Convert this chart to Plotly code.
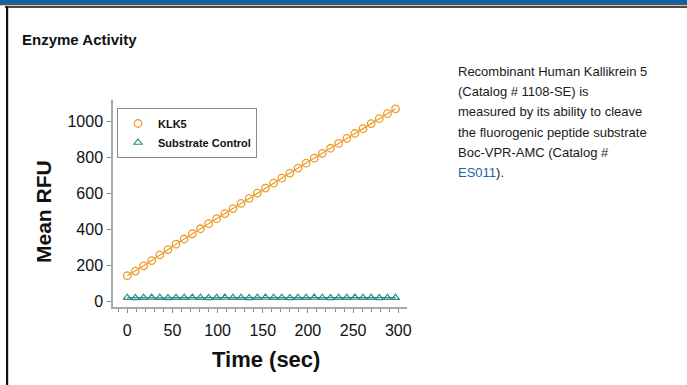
import plotly.graph_objects as go

# ---------------- data ----------------
time_sec = [0, 9, 18, 27, 36, 45, 54, 63, 72, 81, 90, 99, 108, 117, 126, 135, 144,
            153, 162, 171, 180, 189, 198, 207, 216, 225, 234, 243, 252, 261, 270,
            279, 288, 297]
klk5_rfu = [142, 168, 197, 226, 258, 287, 317, 346, 375, 403, 431, 459, 487, 515,
            544, 572, 601, 629, 656, 684, 712, 740, 767, 795, 822, 850, 877, 905,
            932, 959, 987, 1014, 1042, 1069]
substrate_rfu = [20, 19, 20, 21, 20, 19, 20, 20, 21, 20, 19, 20, 21, 20, 20, 19, 20,
                 21, 20, 20, 19, 20, 20, 21, 20, 19, 20, 20, 21, 20, 20, 19, 20, 20]
series_names = ["KLK5", "Substrate Control"]
x_ticks = [0, 50, 100, 150, 200, 250, 300]
y_ticks = [0, 200, 400, 600, 800, 1000]

# ---------------- layout geometry ----------------
W, H = 687, 385
L, R, T, B = 113, 280, 100, 78
PW = W - L - R
PH = H - T - B
FONT = "Liberation Sans, Arial, Helvetica, sans-serif"
ORANGE = "#EE9D2B"
TEAL = "#2E8C88"


def px(xp):
    return (xp - L) / PW


def py(yp):
    return (H - B - yp) / PH


fig = go.Figure()
fig.add_trace(go.Scatter(x=time_sec, y=klk5_rfu, mode="lines",
                         line=dict(color=ORANGE, width=1.2),
                         showlegend=False, hoverinfo="skip"))
fig.add_trace(go.Scatter(x=time_sec, y=substrate_rfu, mode="lines",
                         line=dict(color=TEAL, width=1.2),
                         showlegend=False, hoverinfo="skip"))
fig.add_trace(go.Scatter(x=time_sec, y=klk5_rfu, mode="markers", name=series_names[0],
                         marker=dict(symbol="circle-open", size=7.5, color=ORANGE,
                                     line=dict(width=1.3, color=ORANGE))))
fig.add_trace(go.Scatter(x=time_sec, y=substrate_rfu, mode="markers", name=series_names[1],
                         marker=dict(symbol="triangle-up-open", size=7, color=TEAL,
                                     line=dict(width=1.2, color=TEAL))))

axis_common = dict(
    showgrid=False, zeroline=False, showline=True, linecolor="#A8A8A8", linewidth=1.5,
    ticks="outside", ticklen=4, tickcolor="#8C8C8C", tickwidth=1,
    tickfont=dict(family=FONT, size=16, color="#111111"),
)

fig.update_xaxes(
    range=[-15.8, 309.7], tickvals=x_ticks, ticktext=[str(v) for v in x_ticks],
    minor=dict(dtick=10, tick0=0, ticks="outside", ticklen=3, tickcolor="#8C8C8C"),
    ticklabelstandoff=4,
    **axis_common,
)
fig.update_yaxes(
    range=[-31.7, 1118], tickvals=y_ticks, ticktext=[str(v) for v in y_ticks],
    ticklabelstandoff=1,
    **axis_common,
)

shapes = [
    # blue header bar
    dict(type="rect", xref="paper", yref="paper", x0=px(0), x1=px(W), y0=py(0), y1=py(4.2),
         fillcolor="#1262A4", line=dict(width=0), layer="above"),
    # double rule under the bar
    dict(type="rect", xref="paper", yref="paper", x0=px(0), x1=px(W), y0=py(4.2), y1=py(5.3),
         fillcolor="#2A2A2A", line=dict(width=0), layer="above"),
    dict(type="rect", xref="paper", yref="paper", x0=px(5), x1=px(W), y0=py(6.3), y1=py(7.8),
         fillcolor="#111111", line=dict(width=0), layer="above"),
    # left frame line
    dict(type="rect", xref="paper", yref="paper", x0=px(6), x1=px(8.2), y0=py(6.3), y1=py(H),
         fillcolor="#111111", line=dict(width=0), layer="above"),
]

annotations = [
    dict(text="<b>Enzyme Activity</b>", xref="paper", yref="paper", x=px(20), y=py(39),
         xanchor="left", yanchor="middle", showarrow=False,
         font=dict(family=FONT, size=15, color="#111111")),
    # axis titles
    dict(text="<b>Mean RFU</b>", xref="paper", yref="paper", x=px(43), y=py(212),
         xanchor="center", yanchor="middle", textangle=-90, showarrow=False,
         font=dict(family=FONT, size=21, color="#111111")),
    dict(text="<b>Time (sec)</b>", xref="paper", yref="paper", x=px(266), y=py(359),
         xanchor="center", yanchor="middle", showarrow=False,
         font=dict(family=FONT, size=22, color="#111111")),
]
desc_lines = [
    "Recombinant Human Kallikrein 5",
    "(Catalog # 1108-SE) is",
    "measured by its ability to cleave",
    "the fluorogenic peptide substrate",
    "Boc-VPR-AMC (Catalog #",
    "<span style='color:#1F62AE'>ES011</span>).",
]
for i, line in enumerate(desc_lines):
    annotations.append(dict(text=line, xref="paper", yref="paper", x=px(456),
                            y=py(71.5 + 20.2 * i), xanchor="left", yanchor="middle",
                            showarrow=False, font=dict(family=FONT, size=13, color="#1A1A1A")))

fig.update_layout(
    width=W, height=H, margin=dict(l=L, r=R, t=T, b=B, autoexpand=False),
    paper_bgcolor="white", plot_bgcolor="white",
    font=dict(family=FONT, color="#111111"),
    shapes=shapes, annotations=annotations,
    legend=dict(x=px(117), y=py(108), xanchor="left", yanchor="top",
                bordercolor="#8A8A8A", borderwidth=1, bgcolor="white",
                font=dict(family=FONT, size=11, color="#111111", weight="bold"),
                tracegroupgap=0),
)

fig.write_html("out.html", config={"displayModeBar": False},
               post_script="document.body.style.margin='0px';")
